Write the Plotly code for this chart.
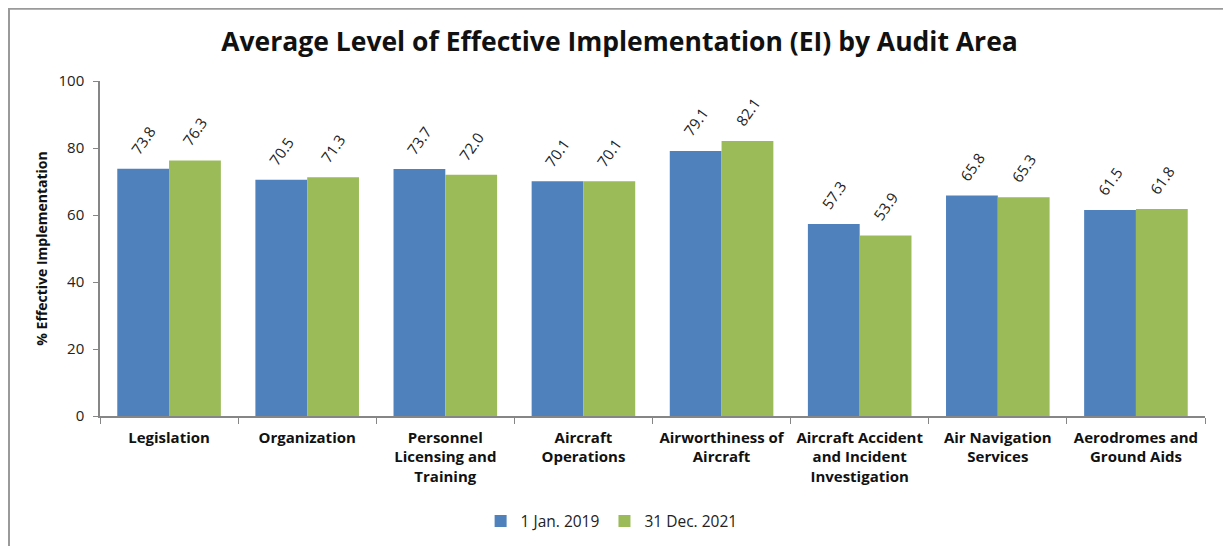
import plotly.graph_objects as go

categories = ["Legislation", "Organization", "Personnel<br>Licensing and<br>Training", "Aircraft<br>Operations",
              "Airworthiness of<br>Aircraft", "Aircraft Accident<br>and Incident<br>Investigation",
              "Air Navigation<br>Services", "Aerodromes and<br>Ground Aids"]
series_2019 = [73.8, 70.5, 73.7, 70.1, 79.1, 57.3, 65.8, 61.5]
series_2021 = [76.3, 71.3, 72.0, 70.1, 82.1, 53.9, 65.3, 61.8]
y_ticks = [0, 20, 40, 60, 80, 100]

FONT = "Open Sans, Liberation Sans, sans-serif"
fig = go.Figure()
series = [("1 Jan. 2019", series_2019, "#4F81BD", -26), ("31 Dec. 2021", series_2021, "#9BBB59", 26)]
for name, vals, col, shift in series:
    fig.add_trace(go.Bar(
        x=categories, y=vals, name=name, marker=dict(color=col, line=dict(width=0)),
    ))
    for c, v in zip(categories, vals):
        fig.add_annotation(x=c, y=v, xref="x", yref="y", text=f"{v:.1f}", showarrow=False,
                           xshift=shift, yshift=29, textangle=-55,
                           font=dict(size=15, color="#222", family=FONT))

# page body has an 8px margin: figure is drawn 8px right/down of the window origin
fig.update_layout(
    width=1223, height=538,
    paper_bgcolor="white", plot_bgcolor="white",
    margin=dict(l=92, r=26, t=73, b=130, autoexpand=False),
    barmode="group", bargap=0.25, bargroupgap=0,
    font=dict(family=FONT, color="#222"),
    title=dict(text="<b>Average Level of Effective Implementation (EI) by Audit Area</b>",
               x=0.5, xanchor="center", y=0.937, yanchor="middle",
               font=dict(size=26.5, color="#111", family=FONT)),
    legend=dict(orientation="h", x=0.463, xanchor="center", y=-0.315, yanchor="middle",
                font=dict(size=15.5, family=FONT), itemwidth=30, traceorder="normal"),
    showlegend=True,
)
fig.update_xaxes(showline=True, linecolor="#868686", linewidth=1.5, ticks="outside",
                 tickson="boundaries", ticklen=6, tickcolor="#868686", automargin=False,
                 ticklabelstandoff=7,
                 tickfont=dict(size=15, family=FONT, color="#111"), tickangle=0,
                 tickprefix="<b>", ticksuffix="</b>")
fig.update_yaxes(range=[0, 100], tickvals=y_ticks, showline=True, linecolor="#868686", linewidth=1.5,
                 ticks="outside", ticklen=5, tickcolor="#868686", showgrid=False, zeroline=False,
                 ticklabelstandoff=6,
                 automargin=False, tickfont=dict(size=15, family=FONT, color="#222"),
                 title=dict(text="<b>% Effective Implementation</b>", font=dict(size=14, family=FONT, color="#111"),
                            standoff=8))
fig.add_shape(type="line", xref="paper", yref="paper", x0=-92 / 1105, x1=1.05, y0=1.216, y1=1.216,
              line=dict(color="#9a9a9a", width=2))
fig.add_shape(type="line", xref="paper", yref="paper", x0=-91 / 1105, x1=-91 / 1105, y0=1.216, y1=-0.45,
              line=dict(color="#9a9a9a", width=2))
fig.write_html("out.html")
